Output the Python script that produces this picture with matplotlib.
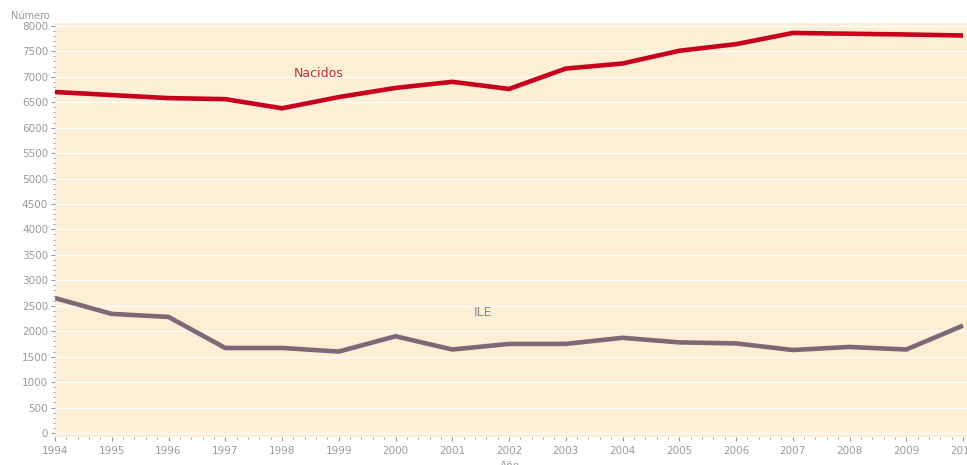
import matplotlib
matplotlib.use("Agg")
import matplotlib.pyplot as plt
from matplotlib.ticker import MultipleLocator

plt.rcParams['font.family'] = 'DejaVu Sans'

years = list(range(1994, 2011))
nacidos = [6700, 6640, 6580, 6560, 6380, 6600, 6780, 6900, 6760, 7160,
           7260, 7510, 7640, 7860, 7845, 7830, 7810]
ile = [2650, 2340, 2280, 1670, 1670, 1600, 1900, 1640, 1750, 1750,
       1870, 1780, 1760, 1630, 1690, 1640, 2110]

bg = '#FDEFD6'
red = '#C8001E'
mauve = '#7E6878'
gray = '#9A9A9A'

fig = plt.figure(figsize=(9.67, 4.65), dpi=100)
ax = fig.add_axes([0.0569, 0.061, 0.9431, 0.890])
ax.set_facecolor(bg)

ax.plot(years, nacidos, color=red, linewidth=3.3, solid_capstyle='butt', zorder=3)
ax.plot(years, ile, color=mauve, linewidth=3.3, solid_capstyle='butt', zorder=3)

ax.text(1998.65, 7060, 'Nacidos', color='#B83236', fontsize=9, ha='center', va='center')
ax.text(2001.55, 2370, 'ILE', color='#8A8A8A', fontsize=9, ha='center', va='center')

ax.set_xlim(1994, 2010.07)
ax.set_ylim(-72, 8060)
ax.set_xticks(years)
ax.set_yticks(range(0, 8001, 500))
ax.xaxis.set_minor_locator(MultipleLocator(0.2))
ax.yaxis.set_minor_locator(MultipleLocator(100))

ax.grid(True, axis='y', which='major', color='white', linewidth=0.9, zorder=1)
ax.set_axisbelow(True)

for s in ['top', 'right', 'bottom', 'left']:
    ax.spines[s].set_visible(False)

ax.tick_params(axis='both', which='major', colors=gray, labelsize=7.5, length=3, width=0.8, pad=2)
ax.tick_params(axis='both', which='minor', colors=gray, length=1.5, width=0.7)
ax.tick_params(axis='x', pad=4)

fig.text(0.011, 0.965, 'Número', color=gray, fontsize=7, ha='left', va='center')
fig.text(0.527, 0.008, 'Año', color=gray, fontsize=7.5, ha='center', va='top')

fig.savefig('out.png', dpi=100, facecolor='white')
